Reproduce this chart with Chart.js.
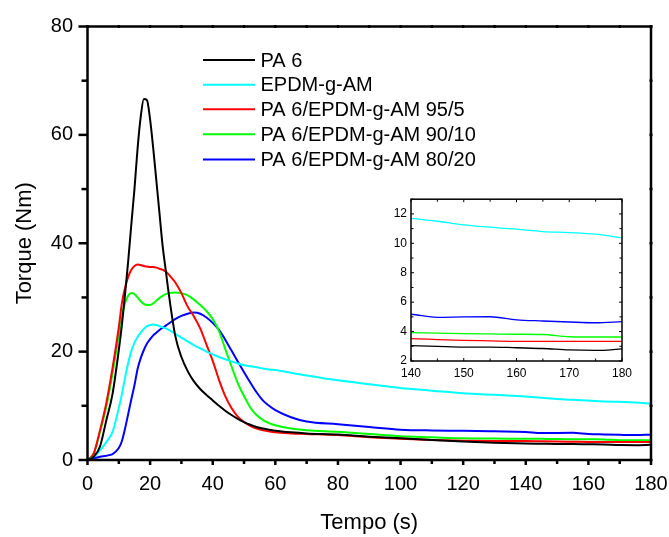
<!DOCTYPE html>
<html><head><meta charset="utf-8">
<script src="https://cdn.jsdelivr.net/npm/chart.js@4"></script>
<style>
html,body{margin:0;padding:0;background:#fff;}
#wrap{position:relative;width:669px;height:537px;overflow:hidden;}
#main{position:absolute;left:0;top:0;}
#inset{position:absolute;left:378px;top:188px;}
</style></head><body>
<div id="wrap"><canvas id="main" width="669" height="537"></canvas><canvas id="inset" width="260" height="200"></canvas></div>
<script>
const time = [0,2,4,6,8,10,11,12,13,14,15,16,17,18,19,20,21,22,23,24,25,26,28,30,32,34,36,38,40,42,44,46,48,50,52,54,56,58,60,65,70,80,90,100,110,120,130,140,145,150,155,160,165,170,175,180];
const pa6 = [0,0.6,2.5,7.3,12.2,20.3,25,30.6,36.7,43.5,50,57.5,63.3,66.6,66.4,62.8,57.5,51.5,45.5,39.5,35,30.5,23,19,16.4,14.5,13.1,12,11,10,9.1,8.3,7.6,7,6.5,6.1,5.8,5.6,5.4,5.1,4.9,4.7,4.3,4.0,3.7,3.4,3.2,3.05,3.0,2.95,2.95,2.9,2.85,2.75,2.72,2.82];
const epdm = [0,0.6,1.8,3.3,5.2,9.6,12.2,15.2,17.9,20.1,21.6,22.7,23.5,24.2,24.7,24.9,25,24.9,24.7,24.5,24.3,24,23.3,22.6,21.9,21.2,20.6,20,19.5,19,18.6,18.2,17.8,17.5,17.3,17.1,16.9,16.7,16.6,16.1,15.6,14.7,14,13.3,12.8,12.3,12.05,11.7,11.5,11.25,11.1,10.96,10.8,10.73,10.62,10.37];
const blend95 = [0,1.2,5.5,10.5,17,24.5,29,31.8,33.8,35.1,35.8,36.1,36,35.8,35.7,35.6,35.6,35.5,35.3,35.1,34.8,34.2,32.8,30.8,28.3,26.5,24.3,21.3,18.3,14.8,11.8,9.6,8,7,6.3,5.8,5.5,5.3,5.1,4.9,4.8,4.6,4.2,3.9,3.7,3.55,3.5,3.52,3.45,3.4,3.37,3.34,3.34,3.34,3.34,3.34];
const blend90 = [0,1.2,5.2,9.8,16,23,26.5,29,30.3,30.8,30.6,30,29.3,28.8,28.6,28.6,28.9,29.4,29.9,30.3,30.6,30.8,30.9,30.8,30.4,29.6,28.6,27.5,26,23.8,20.5,17.3,14.2,11.8,9.7,8.3,7.4,6.8,6.4,5.8,5.5,5.2,4.8,4.4,4.2,4.0,3.95,3.93,3.9,3.86,3.84,3.82,3.8,3.65,3.63,3.63];
const blend80 = [0,0.3,0.6,0.8,1.1,2.2,3.5,5.8,8.5,11.2,13.8,16.8,18.8,20.3,21.5,22.3,23,23.5,24,24.4,24.8,25.2,26,26.6,27,27.2,27,26.3,25.3,24,22.2,20.2,18.2,16.2,14.3,12.5,11,10,9.2,7.9,7.1,6.6,6.1,5.6,5.45,5.4,5.3,5.18,4.97,5.0,5.01,4.8,4.72,4.65,4.6,4.68];
const seriesNames = ['PA 6','EPDM-g-AM','PA 6/EPDM-g-AM 95/5','PA 6/EPDM-g-AM 90/10','PA 6/EPDM-g-AM 80/20'];
const seriesColors = ['#000000','#00FFFF','#FF0000','#00FF00','#0000FF'];
const seriesValues = [pa6, epdm, blend95, blend90, blend80];
const xTitle = 'Tempo (s)';
const yTitle = 'Torque (Nm)';

const FONT = '"Liberation Sans", Arial, sans-serif';

function makeDatasets(width){
  return seriesValues.map((vals,i)=>({
    label: seriesNames[i],
    data: time.map((t,j)=>({x:t,y:vals[j]})),
    borderColor: seriesColors[i],
    backgroundColor: seriesColors[i],
    borderWidth: width,
    pointRadius: 0,
    fill: false,
    cubicInterpolationMode: 'monotone'
  }));
}

function isMultiple(v, step){ const r = v/step; return Math.abs(r-Math.round(r))<1e-6; }

function frameTicks(cfg){
  return {
    id:'frameTicks',
    afterDraw(chart){
      const {ctx, chartArea:a, scales:{x,y}} = chart;
      ctx.save();
      ctx.strokeStyle='#000';
      ctx.lineCap='butt';
      ctx.lineWidth = cfg.tickWidth;
      const seg=(x1,y1,x2,y2)=>{ctx.beginPath();ctx.moveTo(x1,y1);ctx.lineTo(x2,y2);ctx.stroke();};
      for(let v=x.min; v<=x.max+1e-9; v+=cfg.xMinor){
        const px=x.getPixelForValue(v); const mj=isMultiple(v,cfg.xMajor);
        const b=cfg.bottom[mj?0:1], t=cfg.top[mj?0:1];
        seg(px,a.bottom-b[1],px,a.bottom+b[0]);
        seg(px,a.top-t[0],px,a.top+t[1]);
      }
      for(let v=y.min; v<=y.max+1e-9; v+=cfg.yMinor){
        const py=y.getPixelForValue(v); const mj=isMultiple(v,cfg.yMajor);
        const l=cfg.left[mj?0:1], r=cfg.right[mj?0:1];
        seg(a.left-l[0],py,a.left+l[1],py);
        seg(a.right-r[1],py,a.right+r[0],py);
      }
      ctx.lineWidth = cfg.frameWidth;
      ctx.strokeRect(a.left,a.top,a.right-a.left,a.bottom-a.top);
      ctx.restore();
    }
  };
}

const legendPlugin = {
  id:'customLegend',
  afterDraw(chart){
    const ctx=chart.ctx;
    ctx.save();
    ctx.font = '20px '+FONT;
    ctx.textBaseline='middle';
    ctx.textAlign='left';
    const rows=[60,84.7,109.3,134.3,159.5];
    chart.data.datasets.forEach((ds,i)=>{
      const yy=rows[i];
      ctx.strokeStyle=ds.borderColor; ctx.lineWidth=2;
      ctx.beginPath(); ctx.moveTo(203,yy); ctx.lineTo(255,yy); ctx.stroke();
      ctx.fillStyle='#000';
      ctx.fillText(ds.label,260.5,yy+1);
    });
    ctx.restore();
  }
};

new Chart(document.getElementById('main'),{
  type:'line',
  data:{datasets: makeDatasets(2)},
  options:{
    responsive:false, animation:false,
    layout:{padding:{top:24,right:0,left:0,bottom:0}},
    plugins:{legend:{display:false},tooltip:{enabled:false}},
    scales:{
      x:{type:'linear',min:0,max:180,
        grid:{display:false,drawTicks:false},
        border:{display:false},
        ticks:{stepSize:20,color:'#000',font:{family:FONT,size:20},padding:12,maxRotation:0},
        title:{display:true,text:xTitle,color:'#000',font:{family:FONT,size:22},padding:{top:0,bottom:1}},
        afterFit(s){s.height=77;s.paddingRight=18;}
      },
      y:{type:'linear',min:0,max:80,
        grid:{display:false,drawTicks:false},
        border:{display:false},
        ticks:{stepSize:20,color:'#000',font:{family:FONT,size:20},padding:14.5},
        title:{display:true,text:yTitle,color:'#000',font:{family:FONT,size:22},padding:{top:12,bottom:0}},
        afterFit(s){s.width=87.5;}
      }
    }
  },
  plugins:[frameTicks({frameWidth:2.5,tickWidth:2.5,xMajor:20,xMinor:10,yMajor:20,yMinor:10,
    bottom:[[5,0],[4,0]], top:[[1.5,1.5],[1.5,1.5]], left:[[9,0],[6,0]], right:[[1.5,1.5],[1.5,1.5]]}), legendPlugin]
});

new Chart(document.getElementById('inset'),{
  type:'line',
  data:{datasets: makeDatasets(1.3)},
  options:{
    responsive:false, animation:false,
    layout:{padding:{top:10,right:16,left:0,bottom:0}},
    plugins:{legend:{display:false},tooltip:{enabled:false}},
    scales:{
      x:{type:'linear',min:140,max:180,
        grid:{display:false,drawTicks:false}, border:{display:false},
        ticks:{stepSize:10,color:'#000',font:{family:FONT,size:12},padding:5,maxRotation:0},
        afterFit(s){s.height=27;}
      },
      y:{type:'linear',min:2,max:13,
        grid:{display:false,drawTicks:false}, border:{display:false},
        ticks:{stepSize:2,includeBounds:false,color:'#000',font:{family:FONT,size:12},padding:4},
        afterFit(s){s.width=33;}
      }
    }
  },
  plugins:[frameTicks({frameWidth:1.5,tickWidth:1,xMajor:10,xMinor:5,yMajor:2,yMinor:1,
    bottom:[[0,3],[0,2.5]], top:[[0,3],[0,2.5]], left:[[0,3],[0,2.5]], right:[[0,3],[0,2.5]]})]
});
</script>
</body></html>
